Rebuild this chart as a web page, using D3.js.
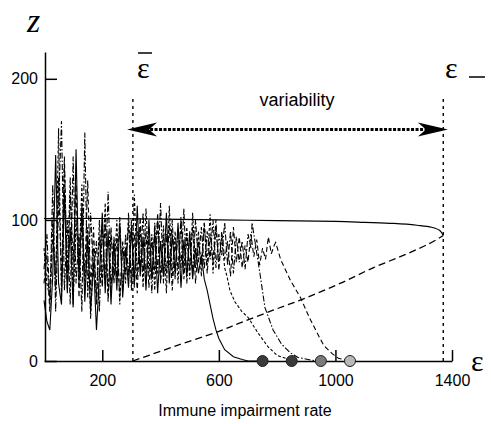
<!DOCTYPE html>
<html>
<head>
<meta charset="utf-8">
<script src="https://cdn.jsdelivr.net/npm/d3@7"></script>
<style>
	body { margin: 0; background: #fff; }
	svg { display: block; }
	.axis path, .axis line { stroke: #000; stroke-width: 1.5; }
	.axis text { font-family: 'Liberation Sans', Arial, sans-serif; font-size: 16px; fill: #000; }
</style>
</head>
<body>
<div id="chart"></div>
<script>
// Sampling interval (impairment rate units) of the simulated trajectories
let epsStep = 10;

let trace1 = [43, 28, 22, 60, 146, 55, 40, 120, 48, 95, 38, 150, 55, 110, 42, 88, 35, 70, 22, 60,
	105, 48, 92, 40, 85, 50, 98, 45, 80, 52, 95, 55, 110, 60, 88, 50, 100, 58, 92, 48,
	85, 60, 105, 55, 90, 62, 98, 52, 86, 60, 92, 58, 80, 62, 75, 58, 50];
let trace2 = [80, 55, 45, 100, 50, 165, 45, 140, 60, 130, 40, 100, 65, 125, 50, 95, 30, 80, 45, 100,
	55, 112, 45, 90, 60, 100, 40, 85, 55, 105, 50, 118, 60, 95, 52, 108, 62, 90, 50, 100,
	58, 96, 48, 110, 60, 92, 55, 100, 64, 95, 58, 105, 66, 92, 60, 98, 68, 104, 62, 95,
	70, 88, 66];
let trace3 = [65, 90, 40, 125, 35, 110, 170, 50, 100, 40, 145, 55, 90, 35, 162, 45, 105, 60, 85, 35,
	95, 55, 120, 50, 88, 58, 102, 48, 90, 60, 100, 52, 92, 65, 105, 55, 88, 48, 98, 62,
	112, 55, 90, 68, 100, 58, 94, 66, 108, 55, 90, 62, 100, 70, 95, 65, 92, 72, 100, 66,
	90, 75, 98, 68, 92, 62, 88, 70, 85, 65, 90, 80];
let trace4 = [55, 75, 35, 90, 60, 130, 55, 145, 50, 120, 70, 125, 45, 100, 60, 128, 50, 95, 40, 88,
	52, 100, 42, 95, 55, 88, 45, 80, 62, 98, 55, 90, 48, 102, 60, 92, 52, 85, 64, 105,
	55, 88, 62, 96, 50, 85, 65, 102, 58, 88, 66, 95, 55, 85, 68, 98, 62, 90, 70, 100,
	64, 92, 72, 85, 60, 95, 70, 88, 66, 82, 70, 90, 74, 86, 68, 80, 72, 88, 76, 82];

// Collapse of each trajectory after the noisy part, [eps, z]
let tail1 = [[570, 40], [580, 30], [590, 22], [600, 16], [620, 8], [650, 3], [680, 1], [700, 0], [750, 0]];
let tail2 = [[628, 60], [638, 50], [655, 42], [679, 35], [700, 31], [734, 20], [769, 10], [800, 4], [834, 1.5], [850, 0]];
let tail3 = [[714, 98], [741, 62], [758, 38], [786, 22], [815, 12], [844, 6], [872, 2.5], [920, 0.5], [950, 0]];
let tail4 = [[795, 84], [812, 72], [846, 57], [880, 45], [910, 31], [937, 20], [960, 11], [990, 5], [1010, 2], [1050, 0]];

// Where each trajectory ends (extinction points)
let endPoints = [750, 850, 950, 1050];
let endShades = ['#3a3a3a', '#3a3a3a', '#7a7a7a', '#b8b8b8'];

// Equilibrium branches [eps, z]
let stableBranch = [[0, 101], [200, 101], [400, 100.5], [600, 100], [800, 99.5], [1000, 99], [1100, 98.3],
	[1200, 97.5], [1280, 96.2], [1330, 94.8], [1358, 92.5], [1370, 89]];
let unstableBranch = [[305, 0], [450, 10.5], [600, 21], [673, 27], [786, 36], [902, 45], [1016, 55],
	[1129, 66], [1246, 76], [1320, 83], [1355, 87], [1370, 89]];

// Critical values
let epsBar = 305;
let epsMinus = 1370;

let xTicks = [200, 600, 1000, 1400];
let yTicks = [0, 100, 200];

let width = 491;
let height = 424;

let xScale = d3.scaleLinear().domain([0, 1400]).range([44, 452]);
let yScale = d3.scaleLinear().domain([0, 219]).range([361, 52]);

let line = d3.line()
		.x(d => xScale(d[0]))
		.y(d => yScale(d[1]));

let svg = d3.select('#chart')
		.append('svg')
		.attr('width', width)
		.attr('height', height);

svg.append('rect')
		.attr('width', width)
		.attr('height', height)
		.attr('fill', '#fff');

/**
 * Turns a sampled series plus its tail into [eps, z] points.
 */
function toPoints(values, tail) {
	return values.map((z, i) => [i * epsStep, z]).concat(tail);
}

// Trajectories
let traces = [
	{points: toPoints(trace1, tail1), dash: null},
	{points: toPoints(trace2, tail2), dash: '3,2'},
	{points: toPoints(trace3, tail3), dash: '6,2,1.5,2'},
	{points: toPoints(trace4, tail4), dash: '5,3'}
];

svg.append('g')
		.attr('class', 'traces')
		.selectAll('path')
		.data(traces)
		.enter()
		.append('path')
		.attr('d', d => line(d.points))
		.attr('fill', 'none')
		.attr('stroke', '#000')
		.attr('stroke-width', 1.1)
		.attr('stroke-dasharray', d => d.dash);

// Equilibrium branches
svg.append('path')
		.attr('d', line.curve(d3.curveCatmullRom)(stableBranch))
		.attr('fill', 'none')
		.attr('stroke', '#000')
		.attr('stroke-width', 1.2);

svg.append('path')
		.attr('d', line.curve(d3.curveCatmullRom)(unstableBranch))
		.attr('fill', 'none')
		.attr('stroke', '#000')
		.attr('stroke-width', 1.3)
		.attr('stroke-dasharray', '7,4');

// Vertical markers at the critical values
svg.append('g')
		.selectAll('line')
		.data([epsBar, epsMinus])
		.enter()
		.append('line')
		.attr('x1', d => xScale(d))
		.attr('x2', d => xScale(d))
		.attr('y1', yScale(0))
		.attr('y2', yScale(186))
		.attr('stroke', '#000')
		.attr('stroke-width', 1.4)
		.attr('stroke-dasharray', '3,4');

// Axes
svg.append('g')
		.attr('class', 'axis')
		.attr('transform', `translate(0, ${yScale(0)})`)
		.call(d3.axisBottom(xScale)
				.tickValues(xTicks)
				.tickFormat(d3.format('d'))
				.tickSizeInner(-11)
				.tickSizeOuter(0)
				.tickPadding(14));

svg.append('g')
		.attr('class', 'axis')
		.attr('transform', `translate(${xScale(0) + 1}, 0)`)
		.call(d3.axisLeft(yScale)
				.tickValues(yTicks)
				.tickSizeInner(-12)
				.tickSizeOuter(0)
				.tickPadding(7));

// End points of the trajectories
svg.append('g')
		.selectAll('circle')
		.data(endPoints)
		.enter()
		.append('circle')
		.attr('cx', d => xScale(d))
		.attr('cy', yScale(0))
		.attr('r', 5.5)
		.attr('fill', (d, i) => endShades[i])
		.attr('stroke', '#222')
		.attr('stroke-width', 1);

// Variability arrow
let arrowY = yScale(164);
let arrowL = xScale(285);
let arrowR = xScale(1386);
svg.append('line')
		.attr('x1', arrowL + 14)
		.attr('x2', arrowR - 14)
		.attr('y1', arrowY)
		.attr('y2', arrowY)
		.attr('stroke', '#000')
		.attr('stroke-width', 3)
		.attr('stroke-dasharray', '3,1.5');

svg.append('path')
		.attr('d', `M${arrowL},${arrowY} L${arrowL + 30},${arrowY - 7} L${arrowL + 22},${arrowY} L${arrowL + 30},${arrowY + 7} Z`)
		.attr('fill', '#000');
svg.append('path')
		.attr('d', `M${arrowR},${arrowY} L${arrowR - 30},${arrowY - 7} L${arrowR - 22},${arrowY} L${arrowR - 30},${arrowY + 7} Z`)
		.attr('fill', '#000');

svg.append('text')
		.attr('x', 297)
		.attr('y', 106)
		.attr('text-anchor', 'middle')
		.style('font-family', "'Liberation Sans', Arial, sans-serif")
		.style('font-size', '18px')
		.text('variability');

// Axis title
svg.append('text')
		.attr('x', 245)
		.attr('y', 416)
		.attr('text-anchor', 'middle')
		.style('font-family', "'Liberation Sans', Arial, sans-serif")
		.style('font-size', '16px')
		.text('Immune impairment rate');

// Symbols
let symbolFont = "'Liberation Serif', 'DejaVu Serif', serif";
svg.append('text')
		.attr('x', 27)
		.attr('y', 32)
		.style('font-family', symbolFont)
		.style('font-style', 'italic')
		.style('font-size', '34px')
		.text('z');

svg.append('text')
		.attr('x', 137)
		.attr('y', 78)
		.style('font-family', symbolFont)
		.style('font-size', '30px')
		.text('ε');
svg.append('line')
		.attr('x1', 138)
		.attr('x2', 152)
		.attr('y1', 53)
		.attr('y2', 53)
		.attr('stroke', '#000')
		.attr('stroke-width', 1.5);

svg.append('text')
		.attr('x', 445)
		.attr('y', 78)
		.style('font-family', symbolFont)
		.style('font-size', '30px')
		.text('ε');
svg.append('line')
		.attr('x1', 469)
		.attr('x2', 485)
		.attr('y1', 77)
		.attr('y2', 77)
		.attr('stroke', '#000')
		.attr('stroke-width', 1.5);

svg.append('text')
		.attr('x', 471)
		.attr('y', 371)
		.style('font-family', symbolFont)
		.style('font-size', '30px')
		.text('ε');
</script>
</body>
</html>
